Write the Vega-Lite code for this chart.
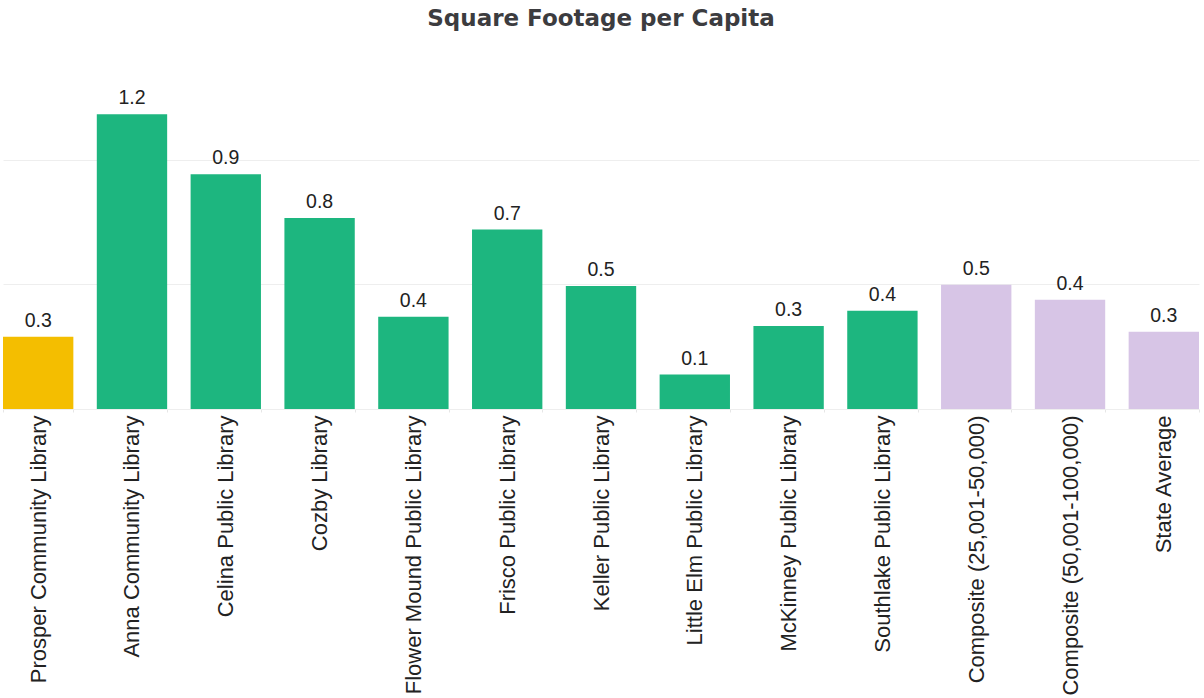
{
  "$schema": "https://vega.github.io/schema/vega-lite/v6.json",
  "width": 1196,
  "height": 299,
  "autosize": {"type": "none"},
  "padding": {"left": 3, "top": 110, "right": 5, "bottom": 289},
  "background": "white",
  "title": {
    "text": "Square Footage per Capita",
    "font": "DejaVu Sans",
    "fontSize": 23,
    "fontWeight": "bold",
    "color": "#3c3c3f",
    "anchor": "middle",
    "frame": "group",
    "offset": 57
  },
  "data": {
    "values": [
      {"library": "Prosper Community Library", "value": 0.29, "group": "Prosper"},
      {"library": "Anna Community Library", "value": 1.183, "group": "Peer"},
      {"library": "Celina Public Library", "value": 0.942, "group": "Peer"},
      {"library": "Cozby Library", "value": 0.767, "group": "Peer"},
      {"library": "Flower Mound Public Library", "value": 0.37, "group": "Peer"},
      {"library": "Frisco Public Library", "value": 0.72, "group": "Peer"},
      {"library": "Keller Public Library", "value": 0.494, "group": "Peer"},
      {"library": "Little Elm Public Library", "value": 0.138, "group": "Peer"},
      {"library": "McKinney Public Library", "value": 0.333, "group": "Peer"},
      {"library": "Southlake Public Library", "value": 0.394, "group": "Peer"},
      {"library": "Composite (25,001-50,000)", "value": 0.499, "group": "Benchmark"},
      {"library": "Composite (50,001-100,000)", "value": 0.438, "group": "Benchmark"},
      {"library": "State Average", "value": 0.31, "group": "Benchmark"}
    ]
  },
  "encoding": {
    "x": {
      "field": "library",
      "type": "nominal",
      "sort": null,
      "scale": {"paddingInner": 0.25, "paddingOuter": 0},
      "axis": {
        "title": null,
        "labelAngle": -90,
        "labelFont": "Liberation Sans",
        "labelFontSize": 22,
        "labelColor": "#222222",
        "labelLimit": 400,
        "labelPadding": 3,
        "tickBand": "extent",
        "tickSize": 3,
        "tickColor": "#e6e6e6",
        "domainColor": "#eeeeee",
        "grid": false
      }
    },
    "y": {
      "field": "value",
      "type": "quantitative",
      "scale": {"domain": [0, 1.2], "nice": false},
      "axis": {
        "title": null,
        "labels": false,
        "ticks": false,
        "domain": false,
        "grid": true,
        "values": [0.5, 1.0],
        "gridColor": "#eeeeee"
      }
    }
  },
  "layer": [
    {
      "mark": {"type": "bar", "clip": false},
      "encoding": {
        "color": {
          "field": "group",
          "type": "nominal",
          "scale": {"domain": ["Prosper", "Peer", "Benchmark"], "range": ["#f4be00", "#1db67f", "#d7c5e6"]},
          "legend": null
        }
      }
    },
    {
      "mark": {"type": "text", "dy": -10, "baseline": "alphabetic", "font": "Liberation Sans", "fontSize": 19.5, "color": "#222222"},
      "encoding": {
        "text": {"field": "value", "type": "quantitative", "format": ".1f"}
      }
    }
  ],
  "config": {"view": {"stroke": null}}
}
